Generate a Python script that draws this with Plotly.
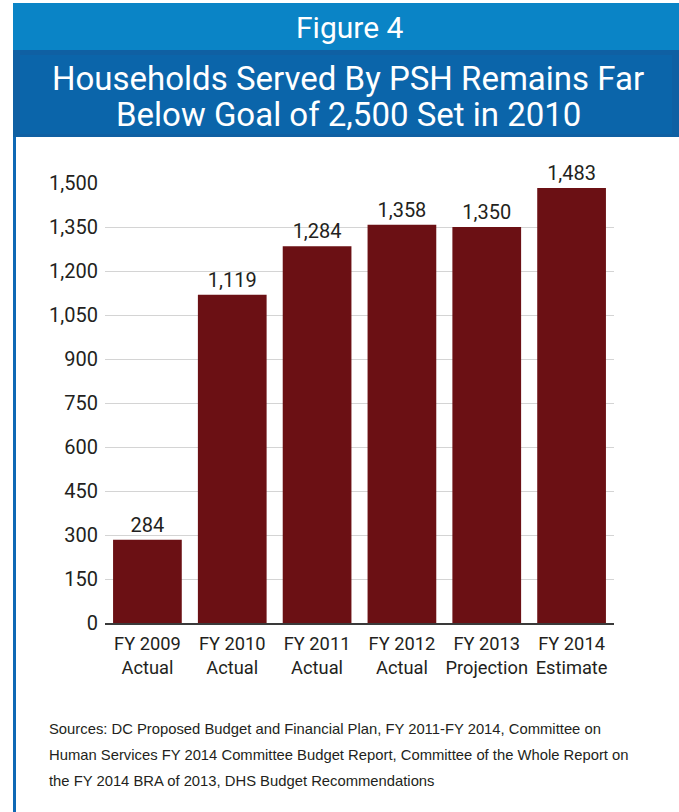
import plotly.graph_objects as go

categories = ["FY 2009<br>Actual", "FY 2010<br>Actual", "FY 2011<br>Actual",
              "FY 2012<br>Actual", "FY 2013<br>Projection", "FY 2014<br>Estimate"]
households = [284, 1119, 1284, 1358, 1350, 1483]
y_ticks = [0, 150, 300, 450, 600, 750, 900, 1050, 1200, 1350, 1500]

W, H = 679, 812
L, R, T, B = 105, 65, 183, 189
PW, PH = W - L - R, H - T - B

def px(x):
    return (x - L) / PW

def py(y):
    return (H - B - y) / PH

FONT = "Roboto, Liberation Sans, sans-serif"
TXT = "#231F20"

fig = go.Figure(go.Bar(
    x=categories, y=households,
    marker=dict(color="#6B1014", line=dict(width=0)),
    text=households, texttemplate="%{y:,}", textposition="outside",
    textfont=dict(family=FONT, size=20, color=TXT),
    cliponaxis=False, width=0.81,
))

fig.update_layout(
    width=W, height=H,
    margin=dict(l=L, r=R, t=T, b=B),
    paper_bgcolor="white", plot_bgcolor="white",
    showlegend=False,
    xaxis=dict(showgrid=False, tickfont=dict(family=FONT, size=18.3, color=TXT),
               tickangle=0,
               showline=True, linecolor="#3a3a3a", linewidth=2, ticks="outside",
               ticklen=3, tickcolor="rgba(0,0,0,0)",
               fixedrange=True),
    yaxis=dict(range=[0, 1500], tickvals=y_ticks, tickformat=",",
               tickfont=dict(family=FONT, size=20, color=TXT),
               showgrid=True, gridcolor="#D4D4D4", gridwidth=1,
               zeroline=False, showline=False, ticks="outside", ticklen=2,
               tickcolor="rgba(0,0,0,0)"),
    bargap=0.19,
)

shapes = [
    dict(type="rect", xref="paper", yref="paper", x0=px(13), x1=px(679), y0=py(3), y1=py(50),
         fillcolor="#0A84C6", line=dict(width=0), layer="below"),
    dict(type="rect", xref="paper", yref="paper", x0=px(13), x1=px(679), y0=py(50), y1=py(137),
         fillcolor="#0F60A3", line=dict(width=0), layer="below"),
    dict(type="rect", xref="paper", yref="paper", x0=px(20), x1=px(672), y0=py(55), y1=py(134),
         fillcolor="#0B65AA", line=dict(width=0), layer="below"),
    dict(type="rect", xref="paper", yref="paper", x0=px(13), x1=px(16), y0=py(137), y1=py(812),
         fillcolor="#0E68B5", line=dict(width=0), layer="below"),
]
fig.update_layout(shapes=shapes)

ann = [
    dict(text="Figure 4", x=px(349), y=py(27), font=dict(family=FONT, size=30, color="white")),
    dict(text="Households Served By PSH Remains Far", x=px(348), y=py(78),
         font=dict(family=FONT, size=33, color="white")),
    dict(text="Below Goal of 2,500 Set in 2010", x=px(348), y=py(114),
         font=dict(family=FONT, size=33, color="white")),
]
src_lines = ["Sources: DC Proposed Budget and Financial Plan, FY 2011-FY 2014, Committee on",
             "Human Services FY 2014 Committee Budget Report, Committee of the Whole Report on",
             "the FY 2014 BRA of 2013, DHS Budget Recommendations"]
for i, s in enumerate(src_lines):
    ann.append(dict(text=s, x=px(47), y=py(729 + 26 * i), xanchor="left",
                    font=dict(family="Liberation Sans, Arial, sans-serif", size=14.8, color=TXT)))
for a in ann:
    a.update(xref="paper", yref="paper", showarrow=False, yanchor=a.get("yanchor", "middle"),
             xanchor=a.get("xanchor", "center"))
fig.update_layout(annotations=ann)

fig.write_html("out.html")
